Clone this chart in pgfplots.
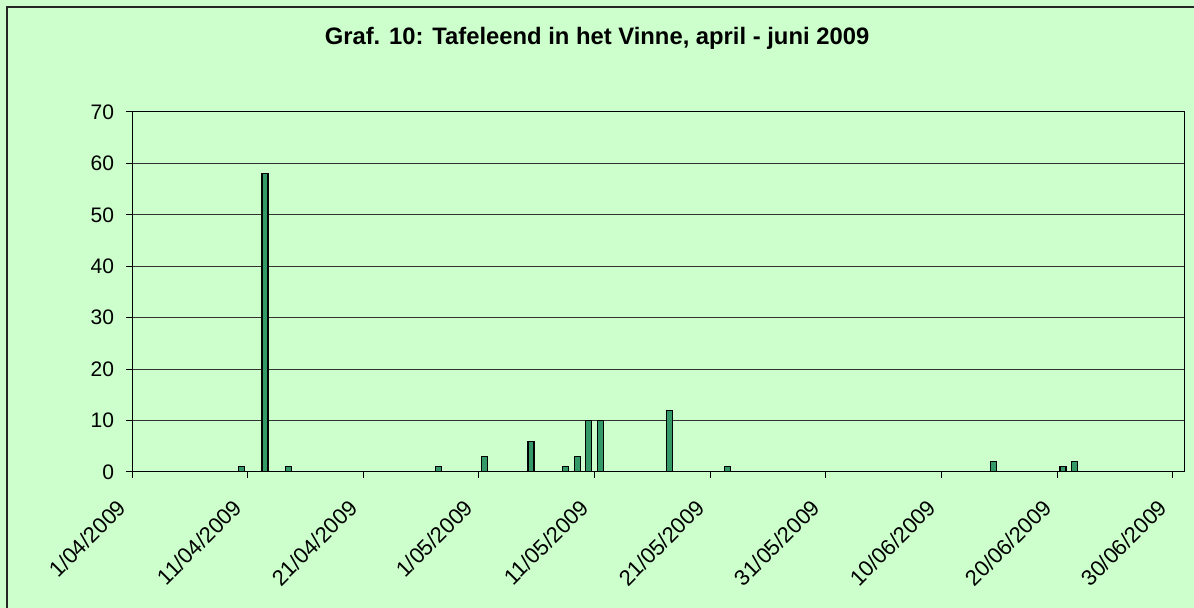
\documentclass[border=0pt]{standalone}
\usepackage{pgfplots}
\pgfplotsset{compat=1.18}
\usepackage{fontspec}
\setmainfont{Liberation Sans}
\definecolor{bgcol}{HTML}{CCFFCC}
\definecolor{barcol}{HTML}{339966}
\begin{document}
\begin{tikzpicture}
\useasboundingbox (0,0) rectangle (597pt,304pt);
\fill[bgcol] (0,0) rectangle (597pt,304pt);
\draw[black!85, line width=0.8pt] (3.6pt,-5pt) rectangle (605pt,300.6pt);
\node[font=\fontsize{11.9}{14}\selectfont\bfseries, anchor=base] at (298.5pt,281.5pt) {Graf. 10: Tafeleend in het Vinne, april - juni 2009};
\begin{axis}[
  at={(66pt,68pt)}, anchor=south west,
  scale only axis, width=526.25pt, height=180pt,
  xmin=0, xmax=91, ymin=0, ymax=70,
  axis background/.style={fill=bgcol},
  axis line style={black, line width=0.5pt},
  xtick={0,10,20,30,40,50,60,70,80,90},
  xticklabels={1/04/2009,11/04/2009,21/04/2009,1/05/2009,11/05/2009,21/05/2009,31/05/2009,10/06/2009,20/06/2009,30/06/2009},
  ytick={0,10,...,70},
  tick align=outside, tick pos=left,
  major tick length=3pt,
  tick style={black, line width=0.5pt},
  ymajorgrids, grid style={black!80, line width=0.5pt},
  /pgf/number format/assume math mode=true,
  yticklabel style={font=\fontsize{10.5}{12}\selectfont, xshift=-2.5pt},
  xticklabel style={font=\fontsize{11}{13}\selectfont, xshift=-2.5pt, yshift=-10.5pt, rotate=45, anchor=east},
]
\addplot[ybar, bar width=3pt, fill=barcol, draw=black, line width=0.6pt] coordinates {
(9.5,1) (11.5,58) (13.5,1) (26.5,1) (30.5,3) (34.5,6) (37.5,1) (38.5,3) (39.5,10) (40.5,10) (46.5,12) (51.5,1) (74.5,2) (80.5,1) (81.5,2)
};
\end{axis}
\end{tikzpicture}
\end{document}
